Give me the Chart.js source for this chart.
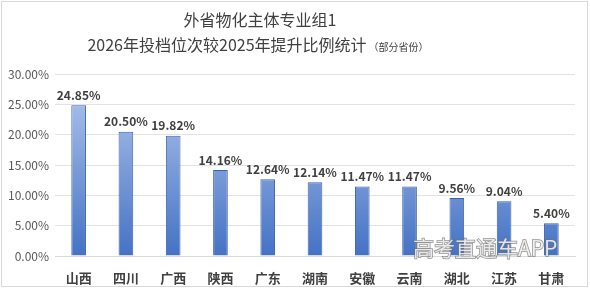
<!DOCTYPE html>
<html>
<head>
<meta charset="utf-8">
<script src="https://cdn.jsdelivr.net/npm/chart.js@4"></script>
<style>
  html, body { margin: 0; padding: 0; background: #fff; }
  #wrap { width: 590px; height: 289px; position: relative; }
</style>
</head>
<body>
<div id="wrap"><canvas id="grafico"></canvas></div>
<script>
const provinces = ['山西', '四川', '广西', '陕西', '广东', '湖南', '安徽', '云南', '湖北', '江苏', '甘肃'];
const rates = [24.85, 20.50, 19.82, 14.16, 12.64, 12.14, 11.47, 11.47, 9.56, 9.04, 5.40];
const titleLines = ['外省物化主体专业组1', '2026年投档位次较2025年提升比例统计'];
const subTitle = '（部分省份）';
const watermark = '高考直通车APP';

const FONT = "'Noto Sans CJK SC', 'Noto Sans', sans-serif";
Chart.defaults.font.family = FONT;

// sfondo, cornice e titolo
const decor = {
    id: 'decor',
    beforeDraw(chart) {
        const c = chart.ctx;
        c.save();
        c.fillStyle = '#fff';
        c.fillRect(0, 0, chart.width, chart.height);
        c.strokeStyle = '#d9d9d9';
        c.lineWidth = 1;
        c.strokeRect(1.5, 1.5, 586, 285);
        c.fillStyle = '#404040';
        c.textAlign = 'center';
        c.textBaseline = 'middle';
        c.font = '16px ' + FONT;
        c.fillText(titleLines[0], 260, 20);
        c.textAlign = 'left';
        const w = c.measureText(titleLines[1]).width;
        c.font = '10px ' + FONT;
        const ws = c.measureText(subTitle).width;
        const x0 = 258 - (w + ws + 2) / 2;
        c.font = '16px ' + FONT;
        c.fillText(titleLines[1], x0, 45);
        c.font = '10px ' + FONT;
        c.fillText(subTitle, x0 + w + 2, 47);
        c.restore();
    },
    afterDatasetsDraw(chart) {
        const c = chart.ctx;
        const meta = chart.getDatasetMeta(0);
        c.save();
        c.font = 'bold 12px ' + FONT;
        c.fillStyle = '#404040';
        c.textAlign = 'center';
        c.textBaseline = 'bottom';
        meta.data.forEach((bar, i) => {
            c.fillText(rates[i].toFixed(2) + '%', bar.x, bar.y - 4);
        });
        // watermark
        c.font = '21px ' + FONT;
        c.textAlign = 'left';
        c.textBaseline = 'alphabetic';
        c.lineWidth = 1.5;
        c.strokeStyle = 'rgba(110,110,110,0.75)';
        c.strokeText(watermark, 413, 256);
        c.fillStyle = 'rgba(255,255,255,0.8)';
        c.fillText(watermark, 413, 256);
        c.restore();
    }
};

const ctx = document.getElementById('grafico').getContext('2d');

function barGradient(context) {
    const chart = context.chart;
    const area = chart.chartArea;
    if (!area) return '#6f91d6';
    const el = context.element;
    const top = el && el.y !== undefined ? el.y : area.top;
    const g = chart.ctx.createLinearGradient(0, top, 0, area.bottom);
    g.addColorStop(0, '#b7c9ef');
    g.addColorStop(1, '#4472c4');
    return g;
}

new Chart(ctx, {
    type: 'bar',
    data: {
        labels: provinces,
        datasets: [{
            data: rates,
            backgroundColor: barGradient,
            borderColor: '#3a62ad',
            borderWidth: 1,
            barPercentage: 0.31,
            categoryPercentage: 1
        }]
    },
    options: {
        responsive: true,
        maintainAspectRatio: false,
        animation: false,
        layout: { padding: { top: 74, right: 15, left: 0, bottom: 0 } },
        scales: {
            y: {
                min: 0,
                max: 30,
                ticks: {
                    stepSize: 5,
                    color: '#595959',
                    font: { size: 12 },
                    padding: 6,
                    callback: v => v.toFixed(2) + '%'
                },
                grid: { color: '#e3e3e3', drawTicks: false },
                border: { display: false },
                afterFit(scale) { scale.width = 55; }
            },
            x: {
                ticks: {
                    color: '#404040',
                    font: { size: 13, weight: 'bold' },
                    padding: 6
                },
                grid: { display: false },
                border: { color: '#d9d9d9' },
                afterFit(scale) { scale.height = 33; }
            }
        },
        plugins: {
            legend: { display: false },
            tooltip: { enabled: false }
        }
    },
    plugins: [decor]
});
</script>
</body>
</html>
